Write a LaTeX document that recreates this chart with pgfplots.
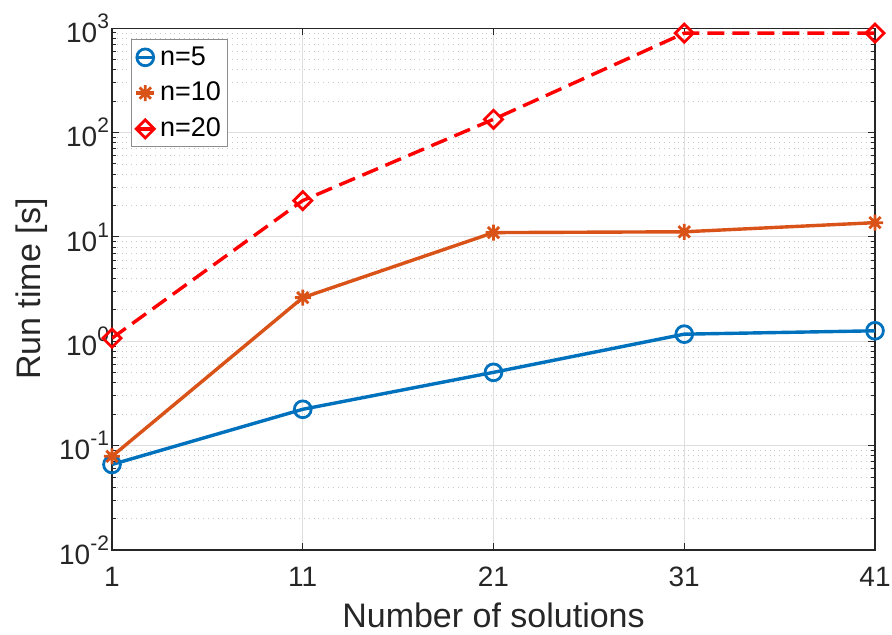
\documentclass[border=0pt]{standalone}
\usepackage{fontspec}
\setmainfont{Liberation Sans}
\usepackage{pgfplots}
\pgfplotsset{compat=1.18}
\definecolor{mblue}{rgb}{0,0.447,0.741}
\definecolor{morange}{rgb}{0.85,0.325,0.098}
\definecolor{mtext}{rgb}{0.15,0.15,0.15}
\newcommand{\sx}[1]{\raisebox{0.5em}{\fontsize{10.5}{12}\selectfont #1}}
\pgfdeclareplotmark{mstar}{%
  \pgfpathmoveto{\pgfqpoint{-\pgfplotmarksize}{0pt}}\pgfpathlineto{\pgfqpoint{\pgfplotmarksize}{0pt}}%
  \pgfpathmoveto{\pgfqpoint{0pt}{-\pgfplotmarksize}}\pgfpathlineto{\pgfqpoint{0pt}{\pgfplotmarksize}}%
  \pgfpathmoveto{\pgfqpoint{-0.707\pgfplotmarksize}{-0.707\pgfplotmarksize}}\pgfpathlineto{\pgfqpoint{0.707\pgfplotmarksize}{0.707\pgfplotmarksize}}%
  \pgfpathmoveto{\pgfqpoint{-0.707\pgfplotmarksize}{0.707\pgfplotmarksize}}\pgfpathlineto{\pgfqpoint{0.707\pgfplotmarksize}{-0.707\pgfplotmarksize}}%
  \pgfusepathqstroke}
\begin{document}
\begin{tikzpicture}
\useasboundingbox (-56pt,-42.5pt) rectangle (390pt,275pt);
\begin{axis}[
  scale only axis, width=381.5pt, height=260.9pt,
  ymode=log, log basis y=10,
  xmin=1, xmax=41, ymin=1e-2, ymax=1e3,
  xtick={1,11,21,31,41},
  ytick={1e-2,1e-1,1,1e1,1e2,1e3},
  yticklabels={10\sx{-2},10\sx{-1},10\sx{0},10\sx{1},10\sx{2},10\sx{3}},
  minor ytick={0.02,0.03,0.04,0.05,0.06,0.07,0.08,0.09,0.2,0.3,0.4,0.5,0.6,0.7,0.8,0.9,2,3,4,5,6,7,8,9,20,30,40,50,60,70,80,90,200,300,400,500,600,700,800,900},
  /pgf/number format/assume math mode=true,
  xmajorgrids, ymajorgrids, yminorgrids,
  major grid style={color=black!13, line width=0.5pt},
  minor grid style={color=black!22, line width=0.4pt, dotted},
  tick align=inside,
  major tick length=3.5pt, minor tick length=2pt,
  every tick/.style={mtext, line width=0.5pt},
  axis line style={mtext, line width=0.6pt},
  tick label style={mtext, font=\fontsize{14}{17}\selectfont},
  label style={mtext, font=\fontsize{17}{20}\selectfont},
  xlabel={Number of solutions},
  ylabel={Run time [s]},
  xticklabel style={yshift=-5pt},
  yticklabel style={xshift=2pt},
  xlabel style={yshift=-1pt},
  ylabel style={yshift=-1pt},
  legend style={at={(0.025,0.979)}, anchor=north west, draw=black!45, fill=white,
    font=\fontsize{13.5}{16}\selectfont, inner sep=1.5pt, row sep=3pt,
    /tikz/every even column/.append style={column sep=0pt}},
  legend cell align=left,
  legend image code/.code={\draw[mark repeat=2,mark phase=2] plot coordinates {(0cm,0cm) (0.16cm,0cm) (0.32cm,0cm)};},
]
\addplot[mblue, line width=1.7pt, mark=o, mark size=4.2pt, mark options={solid, line width=1.4pt}]
  coordinates {(1,0.066) (11,0.223) (21,0.504) (31,1.17) (41,1.26)};
\addlegendentry{n=5}
\addplot[morange, line width=1.7pt, mark=mstar, mark size=4pt, mark options={solid, line width=1.4pt}]
  coordinates {(1,0.079) (11,2.62) (21,11.0) (31,11.2) (41,13.7)};
\addlegendentry{n=10}
\addplot[red, line width=1.7pt, dash pattern=on 8.5pt off 4pt, mark=square, mark size=3.2pt, mark options={solid, rotate=45, line width=1.4pt}]
  coordinates {(1,1.07) (11,22.3) (21,134) (31,896) (41,896)};
\addlegendentry{n=20}
\end{axis}
\end{tikzpicture}
\end{document}
